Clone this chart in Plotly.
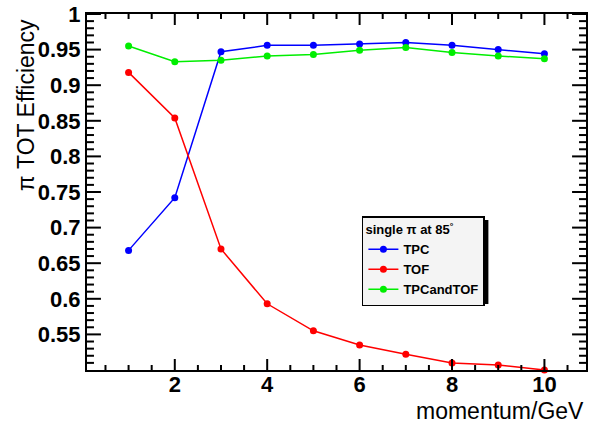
import plotly.graph_objects as go

momentum = [1, 2, 3, 4, 5, 6, 7, 8, 9, 10]
tpc = [0.668, 0.742, 0.947, 0.956, 0.956, 0.958, 0.960, 0.956, 0.950, 0.944]
tof = [0.918, 0.854, 0.670, 0.593, 0.555, 0.535, 0.522, 0.510, 0.507, 0.500]
tpc_and_tof = [0.955, 0.933, 0.935, 0.941, 0.943, 0.949, 0.953, 0.946, 0.941, 0.937]
y_ticks = [0.55, 0.6, 0.65, 0.7, 0.75, 0.8, 0.85, 0.9, 0.95, 1.0]
y_labels = ["0.55", "0.6", "0.65", "0.7", "0.75", "0.8", "0.85", "0.9", "0.95", "1"]
x_ticks = [2, 4, 6, 8, 10]
x_minor_ticks = [k * 0.5 for k in range(1, 22) if k % 4 != 0]
y_minor_ticks = [round(0.5 + k * 0.01, 2) for k in range(1, 50) if k % 5 != 0]
X_RANGE = [0.1, 10.9]
Y_RANGE = [0.5, 1.0]

FONT = "Liberation Sans, Arial, sans-serif"
L, R, T, B, W, H = 87, 1, 14, 58, 589, 428
PW, PH = W - L - R, H - T - B
XU = (X_RANGE[1] - X_RANGE[0]) / PW   # data units per pixel, x
YU = (Y_RANGE[1] - Y_RANGE[0]) / PH   # data units per pixel, y


def px(x):
    return (x - L) / PW


def py(y):
    return (H - B - y) / PH


fig = go.Figure()
series = [("TPC", tpc, "#0000ff"), ("TOF", tof, "#ff0000"), ("TPCandTOF", tpc_and_tof, "#00ee00")]
for name, vals, col in series:
    fig.add_trace(go.Scatter(
        x=momentum, y=vals, name=name, mode="lines+markers",
        line=dict(color=col, width=1.5),
        marker=dict(color=col, size=7, symbol="circle"),
        cliponaxis=False,
    ))

# ROOT-style inside ticks on all four sides, drawn in axis coordinates
tx, ty = [], []
for v in x_ticks + x_minor_ticks:
    ln = (11 if v in x_ticks else 5) * YU
    tx += [v, v, None, v, v, None]
    ty += [Y_RANGE[0], Y_RANGE[0] + ln, None, Y_RANGE[1], Y_RANGE[1] - ln, None]
for v in y_ticks + y_minor_ticks:
    ln = (14 if v in y_ticks else 7) * XU
    tx += [X_RANGE[0], X_RANGE[0] + ln, None, X_RANGE[1], X_RANGE[1] - ln, None]
    ty += [v, v, None, v, v, None]
fig.add_trace(go.Scatter(x=tx, y=ty, mode="lines", line=dict(color="black", width=2),
                         showlegend=False, hoverinfo="skip", cliponaxis=False,
                         connectgaps=False))

fig.update_layout(
    width=W, height=H,
    margin=dict(l=L, r=R, t=T, b=B),
    paper_bgcolor="white", plot_bgcolor="white",
    font=dict(family=FONT, color="black"),
    showlegend=True,
    legend=dict(
        x=px(363), y=py(216), xanchor="left", yanchor="top",
        bgcolor="#f4f4f4", bordercolor="black", borderwidth=1.5,
        font=dict(family=FONT, size=13, weight="bold", color="black"),
        title=dict(text="single π at 85<sup>°</sup>", font=dict(family=FONT, size=13, weight="bold")),
        itemwidth=30, tracegroupgap=0,
    ),
    shapes=[dict(type="rect", xref="paper", yref="paper",
                 x0=px(367), x1=px(490), y0=py(220), y1=py(304),
                 fillcolor="black", line=dict(width=0), layer="above")],
)

fig.update_xaxes(
    type="linear", range=X_RANGE, showgrid=False, zeroline=False,
    showline=True, linecolor="black", linewidth=2, mirror=True,
    tickmode="array", tickvals=x_ticks, ticks="", ticklabelstandoff=-6,
    tickfont=dict(family=FONT, size=22, weight="bold", color="black"),
)
fig.update_yaxes(
    type="linear", range=Y_RANGE, showgrid=False, zeroline=False,
    showline=True, linecolor="black", linewidth=2, mirror=True,
    tickmode="array", tickvals=y_ticks, ticktext=y_labels, ticks="",
    tickfont=dict(family=FONT, size=22, weight="bold", color="black"),
)

fig.add_annotation(
    text="momentum/GeV", xref="paper", yref="paper", x=1.0, y=py(411),
    xanchor="right", yanchor="middle", showarrow=False,
    font=dict(family=FONT, size=23, color="black"),
)
fig.add_annotation(
    text="π TOT Efficiency", xref="paper", yref="paper", x=px(26), y=py(105),
    xanchor="center", yanchor="middle", textangle=-90, showarrow=False,
    font=dict(family=FONT, size=23, color="black"),
)

fig.write_html("out.html")
